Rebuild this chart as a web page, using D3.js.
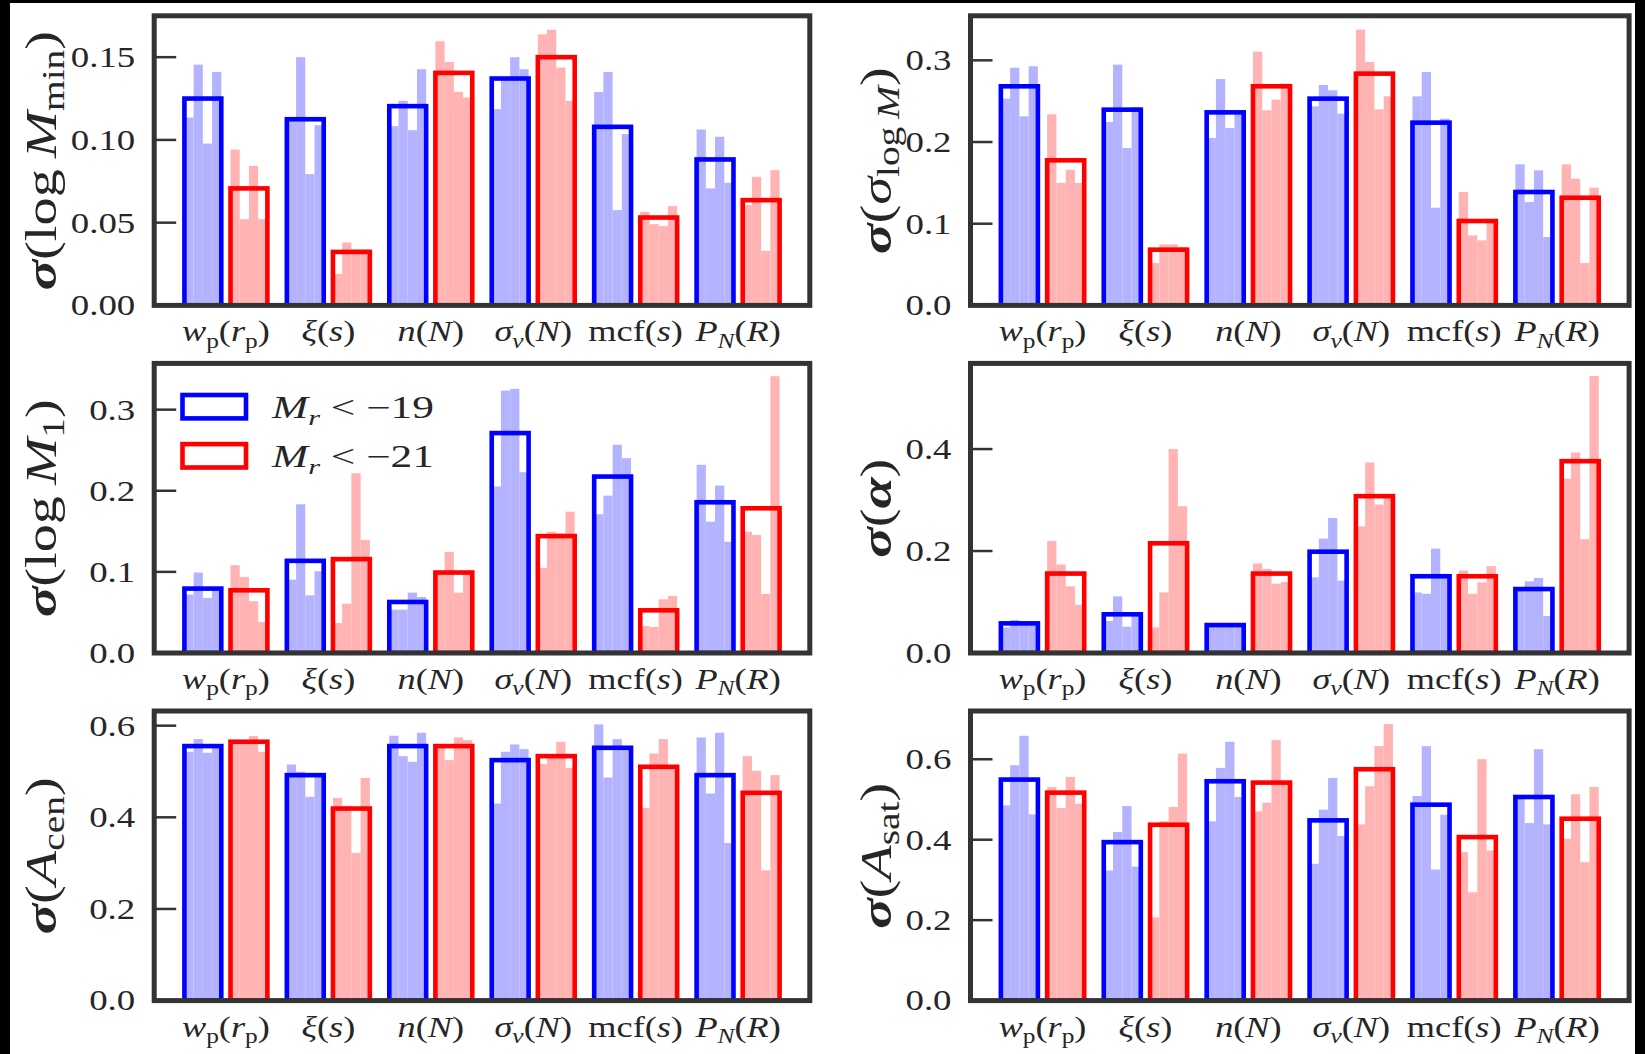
<!DOCTYPE html>
<html><head><meta charset="utf-8">
<script src="https://cdn.jsdelivr.net/npm/d3@7"></script>
<style>html,body{margin:0;padding:0;background:#000;}svg{display:block;}</style>
</head><body>
<svg id="c" width="1645" height="1054"></svg>
<script>
// ---------------- data ----------------
const categories = ["wp", "xi", "nN", "sv", "mcf", "PN"];
const categoryLabels = [
  [["w","i"],["p","s"],["(",""],["r","i"],["p","s"],[")",""]],
  [["ξ","i"],["(",""],["s","i"],[")",""]],
  [["n","i"],["(",""],["N","i"],[")",""]],
  [["σ","i"],["v","si"],["(",""],["N","i"],[")",""]],
  [["mcf",""],["(",""],["s","i"],[")",""]],
  [["P","i"],["N","si"],["(",""],["R","i"],[")",""]]
];
const seriesNames = [
  [["M","i"],["r","si"],[" < −19",""]],
  [["M","i"],["r","si"],[" < −21",""]]
];

// panel 1: sigma(log Mmin)
const p1BlueTotal = [0.125, 0.1125, 0.1204, 0.1371, 0.1079, 0.0882];
const p1BlueSub = [[0.1135,0.1455,0.0978,0.1411],[0.112,0.150,0.0793,0.1089],[0.1083,0.1236,0.1059,0.1427],[0.1186,0.137,0.150,0.1427],[0.129,0.1411,0.0576,0.1035],[0.1063,0.0707,0.1019,0.0741]];
const p1RedTotal = [0.0707, 0.0323, 0.1405, 0.150, 0.0531, 0.0636];
const p1RedSub = [[0.0942,0.0521,0.0843,0.0521],[0.019,0.038,0.034,0.034],[0.1596,0.1471,0.129,0.1256],[0.1638,0.1666,0.1437,0.1236],[0.0566,0.0491,0.0479,0.06],[0.0606,0.0777,0.033,0.0817]];
// panel 2: sigma(sigma_logM)
const p2BlueTotal = [0.2682, 0.2396, 0.2363, 0.2531, 0.2237, 0.1388];
const p2BlueSub = [[0.2531,0.291,0.2314,0.2927],[0.2245,0.2947,0.1927,0.2429],[0.2049,0.2771,0.2171,0.238],[0.2437,0.2698,0.2633,0.2347],[0.2559,0.2857,0.1196,0.2286],[0.1727,0.1265,0.1653,0.0837]];
const p2RedTotal = [0.1776, 0.0682, 0.2682, 0.2837, 0.1033, 0.1318];
const p2RedSub = [[0.2339,0.1498,0.1661,0.1498],[0.0518,0.0747,0.0747,0.0716],[0.3106,0.2388,0.2518,0.2716],[0.3376,0.298,0.24,0.2559],[0.1388,0.0857,0.0796,0.105],[0.1727,0.1551,0.0518,0.1441]];
// panel 3: sigma(log M1)
const p3BlueTotal = [0.0794, 0.1136, 0.0629, 0.2711, 0.2175, 0.1858];
const p3BlueSub = [[0.072,0.0992,0.0679,0.078],[0.0905,0.1833,0.0711,0.1008],[0.0534,0.0534,0.0744,0.069],[0.2052,0.3235,0.3256,0.2229],[0.171,0.194,0.2567,0.2402],[0.232,0.1619,0.2064,0.1371]];
const p3RedTotal = [0.0773, 0.1157, 0.0992, 0.1441, 0.0526, 0.1784];
const p3RedSub = [[0.1082,0.0938,0.0638,0.0381],[0.0369,0.0608,0.2216,0.1392],[0.0988,0.1247,0.0744,0.0988],[0.105,0.1495,0.1477,0.1742],[0.0332,0.032,0.0662,0.0703],[0.1495,0.1454,0.0728,0.3412]];
// panel 4: sigma(alpha)
const p4BlueTotal = [0.0581, 0.0759, 0.0548, 0.1987, 0.1505, 0.1254];
const p4BlueSub = [[0.0502,0.0647,0.0588,0.0588],[0.0627,0.1109,0.0515,0.078],[0.054,0.053,0.055,0.054],[0.1485,0.2244,0.2647,0.1419],[0.1188,0.1162,0.2046,0.155],[0.128,0.1406,0.1472,0.0726]];
const p4RedTotal = [0.1558, 0.2152, 0.1558, 0.3076, 0.1505, 0.3762];
const p4RedSub = [[0.2198,0.1736,0.1307,0.0944],[0.0502,0.1188,0.40,0.2878],[0.1756,0.165,0.136,0.1393],[0.2482,0.3736,0.2911,0.31],[0.1617,0.1162,0.1386,0.1703],[0.3419,0.3934,0.2231,0.5432]];
// panel 5: sigma(A_cen)
const p5BlueTotal = [0.5554, 0.492, 0.5554, 0.5248, 0.5517, 0.492];
const p5BlueSub = [[0.543,0.5707,0.5408,0.558],[0.5153,0.4993,0.4446,0.495],[0.578,0.5335,0.5211,0.5845],[0.43,0.543,0.559,0.5488],[0.6028,0.4869,0.5707,0.55],[0.5743,0.4519,0.5845,0.344]];
const p5RedTotal = [0.5649, 0.4191, 0.5554, 0.5335, 0.5102, 0.4534];
const p5RedSub = [[0.565,0.566,0.5773,0.543],[0.4424,0.425,0.3222,0.4861],[0.554,0.5248,0.5743,0.5685],[0.516,0.535,0.5649,0.508],[0.4206,0.5394,0.5707,0.51],[0.5335,0.5015,0.2843,0.492]];
// panel 6: sigma(A_sat)
const p6BlueTotal = [0.5495, 0.394, 0.5453, 0.4481, 0.4871, 0.5062];
const p6BlueSub = [[0.4855,0.5852,0.6584,0.463],[0.3234,0.419,0.4838,0.3333],[0.4456,0.5786,0.6434,0.5062],[0.34,0.4747,0.5536,0.409],[0.5087,0.6326,0.3259,0.4622],[0.51,0.4414,0.6251,0.4381]];
const p6RedTotal = [0.517, 0.4372, 0.542, 0.5752, 0.4065, 0.4522];
const p6RedSub = [[0.5312,0.4788,0.5561,0.4896],[0.207,0.446,0.4813,0.6143],[0.4705,0.4921,0.6476,0.545],[0.4381,0.5328,0.6326,0.6875],[0.3691,0.2693,0.6002,0.3732],[0.4023,0.5129,0.3441,0.5312]];

const yMaxes = [0.175, 0.3545, 0.357, 0.568, 0.632, 0.72];
const yTicks = [[0,0.05,0.10,0.15],[0,0.1,0.2,0.3],[0,0.1,0.2,0.3],[0,0.2,0.4],[0,0.2,0.4,0.6],[0,0.2,0.4,0.6]];
const yTickLabels = [["0.00","0.05","0.10","0.15"],["0.0","0.1","0.2","0.3"],["0.0","0.1","0.2","0.3"],["0.0","0.2","0.4"],["0.0","0.2","0.4","0.6"],["0.0","0.2","0.4","0.6"]];
const yLabels = [
  [["σ","bi"],["(",""],["log",""],["\u2009",""],["M","i"],["min","s"],[")",""]],
  [["σ","bi"],["(",""],["σ","i"],["log\u2009","s"],["M","si"],[")",""]],
  [["σ","bi"],["(",""],["log",""],["\u2009",""],["M","i"],["1","s"],[")",""]],
  [["σ","bi"],["(",""],["α","bi"],[")",""]],
  [["σ","bi"],["(",""],["A","i"],["cen","s"],[")",""]],
  [["σ","bi"],["(",""],["A","i"],["sat","s"],[")",""]]
];

const panels = [
  {bt:p1BlueTotal, bs:p1BlueSub, rt:p1RedTotal, rs:p1RedSub},
  {bt:p2BlueTotal, bs:p2BlueSub, rt:p2RedTotal, rs:p2RedSub},
  {bt:p3BlueTotal, bs:p3BlueSub, rt:p3RedTotal, rs:p3RedSub},
  {bt:p4BlueTotal, bs:p4BlueSub, rt:p4RedTotal, rs:p4RedSub},
  {bt:p5BlueTotal, bs:p5BlueSub, rt:p5RedTotal, rs:p5RedSub},
  {bt:p6BlueTotal, bs:p6BlueSub, rt:p6RedTotal, rs:p6RedSub}
];

// ---------------- layout ----------------
const W = 1645, H = 1054;
const COLS = [{x:154.2, w:655.6, labX:41}, {x:970.5, w:658.6, labX:876}];
const ROWS = [15.8, 363.4, 711];
const PH = 289.6;
const FONT = "'Liberation Serif','Times New Roman',serif";
const TXT = "#262626";
const FRAME = "#333333";
const TICK_FS = 29, TICK_SX = 1.27;
const CAT_FS = 29, CAT_SX = 1.25;
const LAB_FS = 44, LAB_SX = 1.28;
const BLUE = "#0000ff", RED = "#ff0000";
const BLUE_L = "#b3b3ff", RED_L = "#ffb3b3";
const BAR_W = 0.36, OFF = 0.225, NSUB = 4;

const svg = d3.select("#c");
svg.append("rect").attr("width", W).attr("height", H).attr("fill", "#000");
svg.append("rect").attr("x", 10).attr("y", 3).attr("width", 1625).attr("height", H - 3).attr("fill", "#fff");

function rich(parent, segs, fs, subShift) {
  const t = parent.append("text").attr("font-family", FONT).attr("font-size", fs).attr("fill", TXT);
  let shift = 0;
  segs.forEach(([s, st]) => {
    const sub = st.includes("s");
    const ts = t.append("tspan").text(s);
    const target = sub ? fs * (subShift || 0.22) : 0;
    if (target - shift !== 0) ts.attr("dy", target - shift);
    shift = target;
    if (sub) ts.attr("font-size", fs * 0.7);
    if (st.includes("i")) ts.attr("font-style", "italic");
    if (st.includes("b")) ts.attr("font-weight", "bold");
  });
  return t;
}

panels.forEach((p, pi) => {
  const col = COLS[pi % 2], y0 = ROWS[Math.floor(pi / 2)];
  const x = d3.scaleLinear().domain([-0.7, 5.7]).range([col.x, col.x + col.w]);
  const y = d3.scaleLinear().domain([0, yMaxes[pi]]).range([y0 + PH, y0]);
  const g = svg.append("g");
  const clipId = "clip" + pi;
  svg.append("clipPath").attr("id", clipId).append("rect")
    .attr("x", col.x).attr("y", y0).attr("width", col.w).attr("height", PH);
  const plot = g.append("g").attr("clip-path", `url(#${clipId})`);

  const series = [
    {tot:p.bt, sub:p.bs, off:-OFF, c:BLUE, l:BLUE_L},
    {tot:p.rt, sub:p.rs, off:OFF, c:RED, l:RED_L}
  ];
  const subW = BAR_W / NSUB;
  series.forEach(s => {
    s.sub.forEach((vals, ci) => {
      vals.forEach((v, k) => {
        const left = ci + s.off - BAR_W / 2 + k * subW;
        plot.append("rect")
          .attr("x", x(left)).attr("width", x(left + subW) - x(left))
          .attr("y", y(v)).attr("height", y(0) - y(v))
          .attr("fill", s.l);
      });
    });
  });
  series.forEach(s => {
    s.tot.forEach((v, ci) => {
      const left = ci + s.off - BAR_W / 2;
      plot.append("rect")
        .attr("x", x(left)).attr("width", x(left + BAR_W) - x(left))
        .attr("y", y(v)).attr("height", y(0) - y(v))
        .attr("fill", "none").attr("stroke", s.c).attr("stroke-width", 4.6);
    });
  });
  yTicks[pi].forEach((t, ti) => {
    g.append("line").attr("x1", col.x).attr("x2", col.x + 22)
      .attr("y1", y(t)).attr("y2", y(t)).attr("stroke", FRAME).attr("stroke-width", 2.5);
    const lg = g.append("g").attr("transform", `translate(${col.x - 19},${y(t)}) scale(${TICK_SX},1)`);
    rich(lg, [[yTickLabels[pi][ti], ""]], TICK_FS).attr("text-anchor", "end").attr("dy", "0.34em");
  });
  g.append("rect").attr("x", col.x).attr("y", y0).attr("width", col.w).attr("height", PH)
    .attr("fill", "none").attr("stroke", FRAME).attr("stroke-width", 5);
  categories.forEach((c, ci) => {
    const lg = g.append("g").attr("transform", `translate(${x(ci)},${y0 + PH + 36}) scale(${CAT_SX},1)`);
    rich(lg, categoryLabels[ci], CAT_FS).attr("text-anchor", "middle");
  });
  const yl = g.append("g").attr("transform", `translate(${col.labX},${y0 + PH / 2}) rotate(-90) scale(${LAB_SX},1)`);
  rich(yl, yLabels[pi], LAB_FS, 0.18).attr("text-anchor", "middle").attr("dy", "0.34em");

  if (pi === 2) {
    const ly = [406.7, 455.8];
    series.forEach((s, si) => {
      g.append("rect").attr("x", 182.5).attr("y", ly[si] - 11.7).attr("width", 63.5).attr("height", 23.4)
        .attr("fill", "#fff").attr("stroke", s.c).attr("stroke-width", 4.6);
      const tg = g.append("g").attr("transform", `translate(272,${ly[si]}) scale(1.4,1)`);
      rich(tg, seriesNames[si], 31).attr("dy", "0.36em");
    });
  }
});
</script>
</body></html>
